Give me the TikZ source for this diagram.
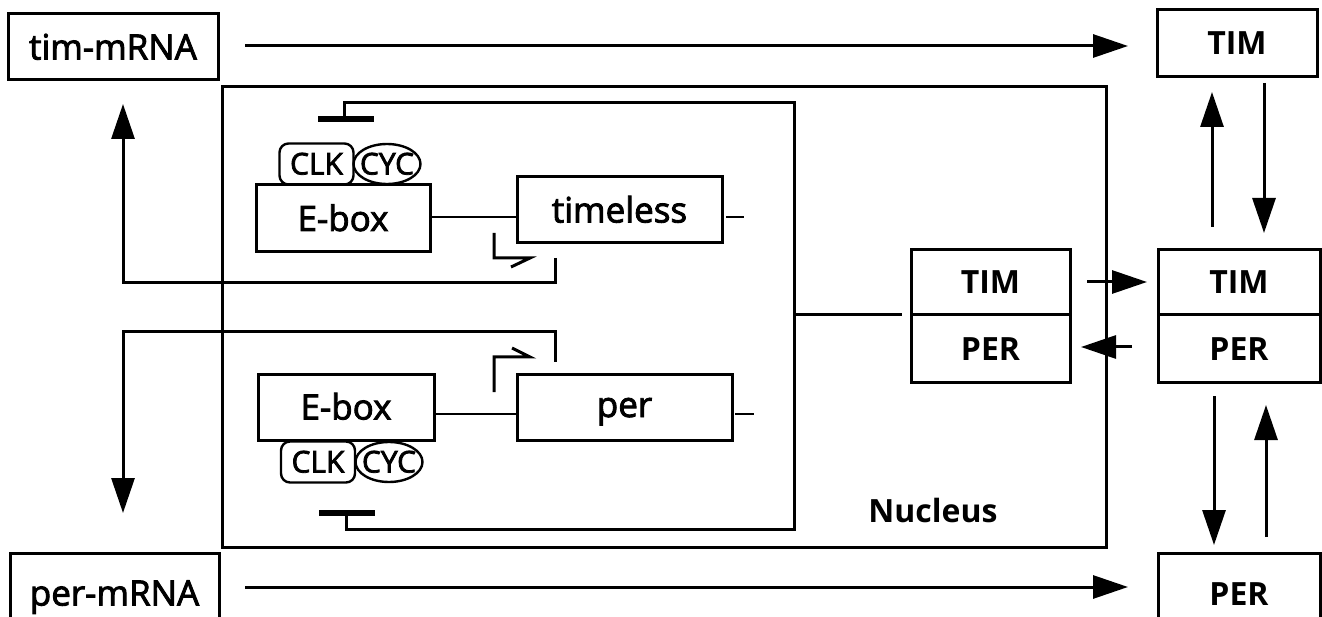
\documentclass[tikz,border=0pt]{standalone}
\usepackage{fontspec}
\setmainfont{Open Sans}
\newfontfamily\medfont{Open Sans}[FakeBold=2.5]
\usetikzlibrary{arrows.meta,shapes.geometric}

\begin{document}
\begin{tikzpicture}[x=1pt,y=-1pt,
  txt/.style={font=\medfont\fontsize{35}{40}\selectfont},
  btxt/.style={font=\fontsize{32}{38}\selectfont\bfseries},
  stxt/.style={font=\medfont\fontsize{30}{34}\selectfont},
  gbox/.style={draw,line width=3pt,inner sep=0pt,anchor=center,txt,
               text height=25pt,text depth=0pt},
  cbox/.style={draw,line width=3pt,inner sep=0pt,anchor=center,btxt,
               text height=23pt,text depth=0pt},
  clkbox/.style={draw,line width=2.4pt,rounded corners=9pt,inner sep=0pt,
                 minimum width=74,minimum height=41,stxt,
                 text height=21pt,text depth=0pt},
  cycell/.style={draw,ellipse,line width=2.4pt,inner sep=0pt,
                 minimum width=67,minimum height=40},
  wire/.style={line width=3pt},
  thin/.style={line width=2.6pt},
  bar/.style={line width=6pt},
  arr/.style={line width=3pt,-{Triangle[length=35pt,width=23pt]}},
]
\useasboundingbox (0,0) rectangle (1322,617);

% mRNA boxes
\node[gbox,minimum width=210,minimum height=66] (timrna) at (113,47) {tim-mRNA};
\node[gbox,minimum width=209,minimum height=87,text depth=7pt] (permrna) at (114.5,596.5) {per-mRNA};

% cytoplasmic proteins
\node[cbox,minimum width=160,minimum height=67] (timc) at (1237,43.5) {TIM};
\node[cbox,minimum width=162,minimum height=65] (trc) at (1239,282.5) {TIM};
\node[cbox,minimum width=162,minimum height=67] (prc) at (1239,348.5) {PER};
\node[cbox,minimum width=162,minimum height=87,text depth=6pt] (perc) at (1239,596.5) {PER};

% nucleus
\node[draw,line width=3pt,minimum width=884,minimum height=460,inner sep=0pt] (nuc) at (664,317) {};
\node[btxt] (nuclab) at (933,510) {Nucleus};

% nuclear TIM/PER complex
\node[cbox,minimum width=159,minimum height=65] (tmn) at (990.5,282.5) {TIM};
\node[cbox,minimum width=159,minimum height=67] (pmn) at (990.5,348.5) {PER};

% timeless gene
\node[gbox,minimum width=174,minimum height=67] (eboxt) at (343,218.5) {E-box};
\node[clkbox] (clkt) at (316.5,164) {CLK};
\node[cycell] (cyct) at (387,164) {};
\node[stxt,inner sep=0pt,text height=21pt,text depth=0pt] (cyctt) at (cyct.center) {CYC};
\node[gbox,minimum width=205,minimum height=66] (timeless) at (619.5,210) {timeless};

% per gene
\node[gbox,minimum width=176,minimum height=66] (eboxb) at (346,407) {E-box};
\node[clkbox] (clkb) at (318,462) {CLK};
\node[cycell] (cycb) at (389,462) {};
\node[stxt,inner sep=0pt,text height=21pt,text depth=0pt] (cycbt) at (cycb.center) {CYC};
\node[gbox,minimum width=215,minimum height=66,text height=20pt] (per) at (624.5,407) {per};

% DNA strands
\draw[thin] (430,217) -- (517,217);
\draw[thin] (726,217) -- (744,217);
\draw[thin] (434,414) -- (517,414);
\draw[thin] (735,414) -- (754,414);

% transcription start sites
\coordinate (pt0) at (494,233);
\coordinate (pt1) at (494,258);
\coordinate (pt2) at (530,258);
\coordinate (pt3) at (511,267);
\draw[wire,line join=miter] (pt0) -- (pt1) -- (pt2) -- (pt3);
\coordinate (pb0) at (494,392);
\coordinate (pb1) at (494,357);
\coordinate (pb2) at (530,357);
\coordinate (pb3) at (512,348);
\draw[wire,line join=miter] (pb0) -- (pb1) -- (pb2) -- (pb3);

% transcripts leaving the nucleus
\coordinate (tt0) at (555,258);
\coordinate (tt1) at (555,283);
\coordinate (tt2) at (123,283);
\coordinate (tt3) at (123,104);
\draw[arr] (tt0) -- (tt1) -- (tt2) -- (tt3);
\coordinate (tp0) at (555,362);
\coordinate (tp1) at (555,332);
\coordinate (tp2) at (123,332);
\coordinate (tp3) at (123,513);
\draw[arr] (tp0) -- (tp1) -- (tp2) -- (tp3);

% repression loop back onto the E-boxes
\coordinate (rt0) at (344,119);
\coordinate (rt1) at (344,103);
\coordinate (rc1) at (794,103);
\coordinate (rc2) at (794,529);
\coordinate (rb1) at (346,529);
\coordinate (rb0) at (346,513);
\draw[wire] (rt0) -- (rt1) -- (rc1) -- (rc2) -- (rb1) -- (rb0);
\draw[bar] (318,119) -- (374,119);
\draw[bar] (319,513) -- (375,513);
\coordinate (rm) at (794,315);
\coordinate (rm2) at (902,315);
\draw[wire] (rm) -- (rm2);

% translation
\coordinate (a1) at (245,46);
\coordinate (a1e) at (1128,46);
\draw[arr] (a1) -- (a1e);
\coordinate (a2) at (245,587);
\coordinate (a2e) at (1128,587);
\draw[arr] (a2) -- (a2e);

% nuclear import / export
\coordinate (im0) at (1087,282);
\coordinate (im1) at (1147,282);
\draw[arr] (im0) -- (im1);
\coordinate (ex0) at (1132,347);
\coordinate (ex1) at (1081,347);
\draw[arr] (ex0) -- (ex1);

% dimerisation
\coordinate (u0) at (1212,227);
\coordinate (u1) at (1212,92);
\draw[arr] (u0) -- (u1);
\coordinate (d0) at (1264,83);
\coordinate (d1) at (1264,233);
\draw[arr] (d0) -- (d1);
\coordinate (d2) at (1214,396);
\coordinate (d3) at (1214,545);
\draw[arr] (d2) -- (d3);
\coordinate (u2) at (1266,537);
\coordinate (u3) at (1266,405);
\draw[arr] (u2) -- (u3);
\end{tikzpicture}
\end{document}
